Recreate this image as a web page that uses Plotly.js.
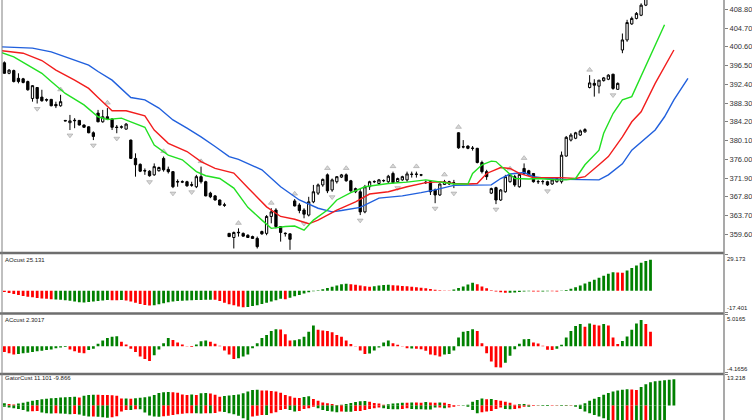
<!DOCTYPE html>
<html><head><meta charset="utf-8">
<script src="https://cdn.plot.ly/plotly-3.0.1.min.js"></script>
<style>html,body{margin:0;padding:0;background:#fff;}#chart{width:752px;height:420px;}</style>
</head><body><div id="chart"></div>
<script>
// ---------------- DATA ----------------
const opens=[397.1,394.8,395.4,393.7,393.6,393.0,389.3,391.7,389.6,389.05,
389.1,388.0,387.7,384.5,384.0,384.55,384.5,383.5,383.1,381.8,
386.1,384.2,385.3,384.8,383.05,383.0,382.6,380.2,376.2,374.9,
373.55,373.4,372.6,373.5,376.2,373.8,373.3,371.15,371.0,371.1,
370.45,370.0,372.2,371.1,368.6,368.0,367.1,366.05,359.8,358.9,
360.05,359.8,359.4,359.1,358.7,360.2,359.8,363.5,364.9,361.3,
359.85,359.7,366.9,366.0,364.9,363.8,366.7,368.6,370.4,372.6,
369.3,371.1,372.1,372.6,371.3,368.9,368.9,364.5,370.0,371.15,
370.7,371.3,371.1,372.9,371.1,371.5,371.5,372.75,372.7,372.6,
371.0,371.1,369.3,368.2,370.5,371.1,370.9,381.8,378.75,378.9,
378.45,378.4,375.3,373.3,368.6,369.8,367.1,368.9,371.1,372.2,
370.0,374.0,373.5,372.9,371.15,371.1,371.1,370.6,371.1,371.1,
376.7,380.2,380.6,381.3,382.0,391.7,392.6,392.0,393.2,393.5,
394.6,391.3,399.9,402.1,405.6,406.8,407.5,409.7,411.5];
const highs=[397.4,395.7,395.6,394.8,393.8,393.2,392.2,391.8,391.2,389.3,
389.2,388.6,390.1,384.6,385.7,385.0,384.6,383.6,383.2,382.1,
386.8,386.8,387.2,385.0,383.5,383.4,383.9,380.3,377.3,375.1,
374.0,373.6,375.1,374.4,376.6,374.4,373.4,371.6,371.4,371.3,
371.1,372.6,374.4,371.3,368.9,368.2,367.2,366.5,359.9,360.2,
360.9,360.0,359.6,359.3,359.1,360.4,363.8,365.3,365.3,361.4,
360.0,359.8,367.3,366.4,365.3,367.8,370.4,370.7,371.8,372.9,
371.8,372.3,372.8,372.9,371.5,369.8,369.6,370.4,371.3,371.4,
371.7,371.6,372.6,373.3,372.0,372.4,373.3,373.3,373.3,372.8,
371.3,371.3,369.6,370.7,371.5,371.3,371.5,381.9,380.2,379.0,
378.9,378.5,375.7,373.7,369.8,370.0,369.5,372.6,372.8,372.6,
373.0,375.1,373.7,373.0,371.5,371.5,371.3,371.6,372.0,377.7,
381.1,381.7,382.0,382.5,382.8,394.4,393.5,393.3,394.0,394.6,
394.7,392.8,403.5,406.5,407.2,408.2,410.1,412.0,413.5];
const lows=[394.7,394.6,392.8,392.6,392.6,391.0,388.6,388.2,388.6,388.6,
387.6,387.2,387.5,384.3,382.4,382.8,383.4,382.9,381.7,380.2,
384.1,384.0,384.6,382.4,381.7,382.7,382.5,376.1,372.2,373.2,
372.6,372.2,372.4,373.3,373.3,372.9,369.7,370.0,370.8,370.0,
370.0,369.7,370.7,367.9,367.5,367.0,365.9,365.6,359.0,356.5,
359.1,359.1,358.8,358.6,356.5,359.5,359.4,362.0,360.9,358.0,
359.1,356.2,365.7,364.2,363.1,363.5,366.4,368.2,370.0,368.6,
368.9,370.7,371.9,371.1,368.9,368.6,363.8,364.2,369.3,370.8,
370.5,371.0,370.7,370.7,370.9,371.3,371.1,372.0,372.0,372.3,
370.6,368.2,366.4,368.0,370.4,370.4,369.7,378.3,378.4,378.2,
377.9,375.1,372.9,371.5,368.4,366.2,366.9,368.7,370.9,370.0,
369.8,372.6,372.4,370.9,370.6,370.5,370.2,370.4,370.9,370.7,
376.6,379.9,380.4,381.1,381.8,391.5,389.7,390.4,393.0,393.3,
391.2,391.2,399.2,401.7,405.4,406.6,407.3,409.5,411.2];
const closes=[394.8,395.5,393.0,393.0,392.8,391.2,392.1,389.3,388.8,388.95,
387.7,387.7,388.6,384.4,384.4,384.45,383.5,383.0,381.8,381.0,
384.2,385.3,384.8,383.0,382.95,383.1,383.7,376.2,374.8,373.4,
373.45,372.4,374.4,374.2,373.7,373.3,370.0,371.05,371.1,370.2,
370.35,372.2,371.1,368.0,367.8,367.1,366.0,365.95,359.1,360.0,
359.95,359.2,358.9,358.7,356.9,359.7,363.5,364.5,361.3,360.0,
359.75,358.5,365.8,364.8,364.0,366.7,368.9,370.4,371.6,369.1,
371.5,372.2,372.6,371.3,369.1,369.6,364.5,370.0,371.1,371.1,
371.5,371.35,372.3,370.9,371.8,372.2,372.8,372.7,372.75,372.55,
370.9,368.9,368.2,370.6,371.1,370.6,370.85,378.5,378.7,378.4,
378.4,375.3,373.3,372.2,369.6,367.1,369.3,372.2,372.6,370.4,
372.7,372.9,372.6,371.1,371.1,371.15,370.4,371.5,371.8,376.9,
380.8,381.3,381.8,382.2,382.5,392.7,392.2,393.3,393.8,394.4,
391.5,392.6,402.1,405.9,406.8,407.9,409.7,411.5,413.0];

const fractalUp=[12,22,34,42,50,57,62,69,73,83,88,94,97,108,111,125];
const fractalDown=[7,14,19,24,31,36,40,49,54,61,64,70,76,84,92,96,105,116,130];

// Alligator lines (bar index, price)
const jawX=[-1,6,10,13,18,20,23,27,30,33,36,39,42,45,48,50,55,59,63,67,70,72,76,80,85,89,92,96,100,104,106,108,111,113,116,120,127,129,132,134,139,141,143,146];
const jawY=[400.6,400.3,399.5,398.4,396.6,395.2,393.3,389.5,389.0,387.2,384.6,382.8,380.9,378.8,376.6,376.0,373.7,370.0,367.1,365.3,364.5,364.8,365.5,367.5,368.0,368.7,369.3,370.3,370.4,370.4,371.8,372.8,373.1,372.2,371.8,371.6,371.5,372.6,375.0,378.0,382.4,385.3,389.0,393.7];
const teethX=[-1,4,8,11,15,18,20,23,26,30,32,35,39,42,45,49,52,56,59,62,65,67,71,75,78,82,86,90,93,96,99,101,103,106,108,110,113,116,119,122,124,127,129,132,134,136,139,143];
const teethY=[399.8,399.2,397.6,395.5,393.3,391.5,389.5,386.6,386.6,385.5,382.4,379.5,377.7,375.5,374.0,373.0,369.8,365.6,363.5,362.9,361.9,362.7,364.9,366.7,368.4,368.9,370.0,370.9,371.1,370.7,370.6,370.7,372.9,374.2,374.0,372.9,372.0,372.0,372.0,371.8,372.2,374.8,376.6,380.9,384.2,386.4,392.6,399.9];
const lipsX=[-1,2,5,8,10,13,17,20,22,25,27,30,32,35,38,41,43,46,49,52,55,57,60,62,64,66,69,71,74,77,82,86,90,93,96,99,100,102,104,105,107,109,112,114,118,120,122,124,127,128,130,132,134,136,138,141];
const lipsY=[399.5,398.4,396.6,394.8,393.0,390.4,387.9,385.3,384.7,385.0,384.2,383.0,379.1,376.9,375.9,373.3,372.4,371.8,369.7,365.5,362.7,360.9,361.3,361.4,360.5,362.7,364.9,367.1,368.7,370.0,370.7,371.0,371.5,371.1,370.6,370.6,372.9,374.8,375.6,375.5,373.7,371.8,371.7,371.8,371.5,371.5,371.8,374.8,378.0,381.7,386.0,389.0,389.7,394.1,398.8,405.4];

const aoValues=[-1.0,-1.8,-2.6,-3.4,-4.2,-4.8,-5.3,-5.8,-6.2,-6.5,-6.8,
-7.0,-7.3,-7.7,-8.1,-8.6,-9.2,-9.4,-9.0,-8.6,-8.2,-7.8,-7.5,
-7.6,-7.7,-7.5,-7.8,-8.6,
-9.6,-10.6,-11.5,-12.0,
-11.6,-10.8,-10.0,-9.2,-8.6,-8.2,-8.0,-7.8,-7.6,-7.5,-7.4,-7.3,-7.2,
-7.3,-8.3,-9.6,-10.8,-11.8,-12.8,-13.3,
-13.1,-12.4,-11.6,-10.6,-9.6,-8.7,-7.6,-6.5,
-6.8,
-5.6,-4.5,-3.4,-2.2,-1.2,-0.4,0.5,1.3,2.2,3.3,4.3,5.2,
5.6,
5.3,4.8,4.2,3.7,3.3,
3.7,4.2,4.6,4.8,
4.5,4.2,3.9,3.6,3.3,2.9,2.5,2.0,1.4,0.9,0.5,0.3,0.2,
1.0,2.2,3.5,5.0,6.4,
5.3,3.5,2.0,0.4,
-0.5,-1.2,-1.6,
-1.5,-1.3,-1.0,-0.6,-0.4,
-0.5,-0.6,-0.5,-0.3,-0.4,-0.5,-0.2,
0.6,1.6,2.8,4.2,5.8,7.4,9.0,10.6,12.2,13.8,
15.0,
14.8,14.6,
16.4,18.4,20.5,22.6,24.0,25.131];
const aoColors="rrrrrrrrrrr"+"gggggggggggg"+"rrgrr"+"rrrr"+"ggggggggggggg"+"rrrrrrr"+"gggggggg"+"r"+
"gggggggggggg"+"g"+"rrrrr"+"gggg"+"rrrrrrrrrrrrr"+"ggggg"+"rrrr"+"rrr"+"ggggg"+"rrggrrg"+"gggggggggg"+"g"+"rr"+"gggggg";

const acValues=[-0.9,-1.1,-1.3,
-1.2,-1.1,-1.0,-0.9,-0.8,-0.7,-0.6,-0.5,-0.3,-0.2,
-0.1,
-0.5,-0.8,-1.0,-1.1,
-0.6,-0.4,0.4,0.9,1.3,1.5,1.6,
0.7,0.3,-0.4,-0.9,-1.6,-2.0,-2.3,
-1.4,-0.5,0.5,1.3,
1.0,0.6,0.3,0.05,-0.1,
0.3,0.8,0.9,
0.7,0.4,0.1,
-0.65,-1.3,-2.0,
-1.9,-1.6,-1.3,-0.3,
0.5,1.3,1.8,2.4,2.7,
2.65,1.9,0.9,
0.95,1.1,1.5,2.3,3.3,
2.6,2.5,2.4,2.2,1.8,1.5,0.9,0.35,0.05,-0.65,-1.2,
-1.15,-0.65,-0.2,0.6,0.9,
0.5,0.25,-0.02,-0.3,
-0.35,
-0.4,-0.45,-0.7,-1.3,-1.4,
-1.6,
-1.3,-1.2,-0.65,
1.4,2.3,2.4,2.7,
2.4,0.5,-1.1,-2.4,-3.3,-3.35,
-2.6,-1.5,-0.45,0.4,1.1,1.15,
0.6,0.45,0.1,-0.55,-0.6,
-0.4,0.25,1.4,2.4,3.2,3.5,
3.1,
3.6,
3.4,3.3,
3.5,
3.3,1.4,0.35,
0.85,1.55,2.6,3.6,4.15,
3.5,2.3017];
const acColors="rrr"+"gggggggggg"+"g"+"rrrr"+"ggggggg"+"rrrrrrr"+"gggg"+"rrrrr"+"ggg"+"rrr"+"rrr"+"gggg"+"ggggg"+
"rrr"+"ggggg"+"rrrrrrrrrrr"+"ggggg"+"rrrr"+"g"+"rrrrr"+"r"+"ggg"+"gggg"+"rrrrrr"+"gggggg"+"rrrrr"+"gggggg"+
"r"+"g"+"rr"+"g"+"rrr"+"ggggg"+"rr";

const gatorUp=[0.9,0.6,0.4,0.8,1.2,1.6,2.0,2.3,2.6,2.9,3.1,3.2,3.4,3.5,3.6,3.7,3.4,4.1,4.4,4.6,
4.5,4.4,4.4,4.3,4.1,3.0,3.0,2.9,3.1,3.3,3.5,3.8,4.4,5.3,5.6,5.7,5.6,5.4,4.7,4.4,
4.7,4.4,5.2,5.3,5.1,4.6,
3.7,4.0,4.2,4.4,4.7,5.2,5.9,6.6,6.7,6.4,6.3,6.1,5.9,5.4,4.4,3.9,3.3,3.2,3.6,3.9,
2.8,2.0,1.3,0.9,0.6,0.2,0.35,0.6,1.1,1.5,1.8,1.9,1.6,1.1,0.8,0.35,0.5,0.8,0.9,1.2,
1.15,1.3,1.25,1.2,1.5,1.3,
1.2,1.3,1.2,0.6,0.2,0.1,0.1,0.35,1.6,2.3,3.0,2.6,2.75,2.3,2.0,1.6,1.2,0.35,0.5,0.6,
0.35,0.2,0.1,0.2,0.2,0.08,0.15,0.2,0.1,0.15,0.2,0.3,1.0,2.0,2.9,3.6,4.5,5.3,5.9,6.4,
6.7,6.9,6.8,6.6,7.8,9.0,9.9,10.3,10.5,10.7,10.9,11.101];
const gatorUpColors="grr"+"ggggggggggggg"+"r"+"ggg"+"rrrrrr"+"g"+"r"+"gggggggg"+"rrrr"+"g"+"r"+"gg"+"rr"+
"r"+"gggggggg"+"rrrrrrrrr"+"gg"+"rrrrrr"+"gggggg"+"rrrr"+"gggg"+"r"+"g"+"rr"+"g"+"r"+
"rgrrrr"+"ggggg"+"r"+"g"+"rrrrr"+"gg"+"rrr"+"gg"+"r"+"gg"+"r"+"ggggggggggggg"+"rr"+"gggggggg";

const gatorDown=[-0.5,-0.9,-1.2,-1.5,-1.9,-2.5,-2.4,-2.3,-3.0,-3.3,-3.4,-3.3,-3.4,-3.5,-3.7,-3.6,-3.8,-4.3,-4.7,-4.7,
-4.8,-5.0,-5.2,-5.0,-4.6,-2.6,-1.9,-1.9,-1.6,-1.6,-3.0,-4.2,-4.7,-4.8,-4.6,-4.3,-4.0,-3.7,-3.5,-3.3,
-3.3,-3.3,-3.4,-3.3,-3.3,-3.2,
-2.6,-2.8,-3.3,-3.7,-4.3,-5.4,-6.1,-4.7,-4.4,-4.0,-4.05,-3.3,-2.9,-1.9,-1.5,-1.9,-2.6,-2.3,-1.5,-1.2,
-0.5,-1.2,-1.9,-2.3,-2.6,-2.9,-2.6,-2.65,-2.7,-2.3,-2.3,-1.9,-1.5,-1.2,-0.9,-1.2,-1.5,-1.55,-1.6,-1.5,
-1.2,-1.5,-1.55,-1.6,-1.65,-1.7,
-0.9,-0.8,-1.2,-0.8,-0.5,-0.07,-0.1,-0.5,-1.9,-3.3,-2.9,-2.6,-2.3,-1.5,-0.9,-1.5,-1.55,-1.5,-1.2,-0.5,
-0.55,-0.1,-0.12,-0.15,-0.2,-0.15,-0.1,-0.15,-0.2,-0.15,-0.5,-1.5,-2.6,-3.3,-4.0,-4.7,-5.4,-6.5,-6.3,-7.2,
-7.8,-7.6,-7.4,-7.9,-8.5,-8.3,-8.9,-9.4,-9.7,-9.866];
const gatorDownColors="gggggg"+"rr"+"ggg"+"r"+"ggg"+"r"+"ggg"+"r"+"ggg"+"rrrr"+"g"+"r"+"ggggg"+"rrrrrrr"+"gg"+"r"+"g"+"r"+
"r"+"gggggg"+"rrr"+"g"+"rrrr"+"gg"+"rrrr"+"ggggg"+"r"+"gg"+"rrrrrr"+"gggg"+"rr"+"ggggg"+
"grgrrrggggrrrrrggrrrgrgggrrggr"+"ggggggggrggrrggrgggg";

const priceTicks=[359.6,363.7,367.8,371.9,376.0,380.1,384.2,388.3,392.4,396.5,400.6,404.7,408.8];
const aoRange=[-17.401,29.173];
const acRange=[-4.1656,5.0165];
const gatorTop=13.218;
const panelTitles=["AOcust 25.131","ACcust 2.3017","GatorCust 11.101 -9.866"];

// ---------------- CHART ----------------
const W=752,H=420,ML=2,MR=28;
const py=px=>1-px/H;
const GREEN='#008000',RED='#ff0000';
const toCol=(s,n)=>Array.from({length:n},(_,i)=>s[i]==='r'?RED:GREEN);
const idx=n=>Array.from({length:n},(_,i)=>i);
const FONT='Liberation Sans, Arial, sans-serif';
const xr=[-0.513,153.70];
const mainRange=[355.73,410.83];
const gatorRange=[-6.15,gatorTop];
const fOff=1.15;

const fractalMarker=sym=>({symbol:sym,size:5,color:'#d8d8d8',line:{color:'#a0a0a0',width:0.6}});

const traces=[
 {type:'candlestick',x:idx(opens.length),open:opens,high:highs,low:lows,close:closes,
  xaxis:'x',yaxis:'y',whiskerwidth:0,
  increasing:{line:{color:'#000',width:1},fillcolor:'#ffffff'},
  decreasing:{line:{color:'#000',width:1},fillcolor:'#000000'},hoverinfo:'skip'},
 {type:'scatter',mode:'markers',x:fractalUp,y:fractalUp.map(i=>highs[i]+fOff),xaxis:'x',yaxis:'y',
  marker:fractalMarker('triangle-up')},
 {type:'scatter',mode:'markers',x:fractalDown,y:fractalDown.map(i=>lows[i]-fOff),xaxis:'x',yaxis:'y',
  marker:fractalMarker('triangle-down')},
 {type:'scatter',mode:'lines',x:jawX,y:jawY,xaxis:'x',yaxis:'y',line:{color:'#2160dd',width:1.4}},
 {type:'scatter',mode:'lines',x:teethX,y:teethY,xaxis:'x',yaxis:'y',line:{color:'#f21d1d',width:1.4}},
 {type:'scatter',mode:'lines',x:lipsX,y:lipsY,xaxis:'x',yaxis:'y',line:{color:'#22e022',width:1.4}},
 {type:'bar',x:idx(aoValues.length),y:aoValues,xaxis:'x2',yaxis:'y2',width:0.6,
  marker:{color:toCol(aoColors,aoValues.length),line:{width:0}}},
 {type:'bar',x:idx(acValues.length),y:acValues,xaxis:'x3',yaxis:'y3',width:0.6,
  marker:{color:toCol(acColors,acValues.length),line:{width:0}}},
 {type:'bar',x:idx(gatorUp.length),y:gatorUp,xaxis:'x4',yaxis:'y4',width:0.6,
  marker:{color:toCol(gatorUpColors,gatorUp.length),line:{width:0}}},
 {type:'bar',x:idx(gatorDown.length),y:gatorDown,xaxis:'x4',yaxis:'y4',width:0.6,
  marker:{color:toCol(gatorDownColors,gatorDown.length),line:{width:0}}}
];

const xa=a=>({domain:[0,1],range:xr,visible:false,anchor:a,fixedrange:true,rangeslider:{visible:false}});
const subY=(dom,rng,tv,a)=>({domain:dom,range:rng,side:'right',anchor:a,tickvals:tv,showticklabels:false,
  ticks:'outside',ticklen:3,tickcolor:'#808080',showgrid:false,zeroline:false,showline:false,fixedrange:true});

const sepColor='#6e6e6e';
const hline=y=>({type:'line',xref:'paper',yref:'paper',x0:-ML/(W-ML-MR),x1:1,y0:py(y),y1:py(y),line:{color:sepColor,width:2.5}});

const labelFont={family:FONT,size:6,color:'#222'};
const sideLab=(txt,yref,y,anchor)=>({xref:'paper',x:1,xanchor:'left',xshift:2,yref:yref,y:y,yanchor:anchor,
  text:txt,showarrow:false,font:labelFont,borderpad:0});
const titleLab=(txt,ypx)=>({xref:'paper',x:0.003,xanchor:'left',yref:'paper',y:py(ypx),yanchor:'middle',
  text:txt,showarrow:false,font:labelFont,borderpad:0});

const layout={
 width:W,height:H,margin:{l:ML,r:MR,t:0,b:0,pad:0},
 paper_bgcolor:'#fff',plot_bgcolor:'#fff',showlegend:false,barmode:'overlay',
 font:{family:FONT},
 xaxis:xa('y'),xaxis2:xa('y2'),xaxis3:xa('y3'),xaxis4:xa('y4'),
 yaxis:{domain:[py(252),1],range:mainRange,side:'right',anchor:'x',tickvals:priceTicks,
   ticktext:priceTicks.map(v=>v.toFixed(2)),ticks:'outside',ticklen:3,tickcolor:'#808080',
   tickfont:{family:FONT,size:7.5,color:'#333'},showgrid:false,zeroline:false,showline:false,fixedrange:true},
 yaxis2:subY([py(312.3),py(254.7)],aoRange,aoRange,'x2'),
 yaxis3:subY([py(372.7),py(314.5)],acRange,acRange,'x3'),
 yaxis4:subY([0,py(374.3)],gatorRange,[gatorTop],'x4'),
 shapes:[
  hline(253),hline(313.4),hline(374),
  {type:'line',xref:'paper',yref:'paper',x0:0,x1:0,y0:0,y1:1,line:{color:'#808080',width:1}},
  {type:'line',xref:'paper',yref:'paper',x0:1,x1:1,y0:0,y1:1,line:{color:'#8c8c8c',width:1.5}}
 ],
 annotations:[
  sideLab(aoRange[1].toFixed(3),'y2',aoRange[1],'top'),
  sideLab(aoRange[0].toFixed(3),'y2',aoRange[0],'bottom'),
  sideLab(acRange[1].toFixed(4),'y3',acRange[1],'top'),
  sideLab(acRange[0].toFixed(4),'y3',acRange[0],'bottom'),
  sideLab(gatorTop.toFixed(3),'y4',gatorTop,'top'),
  titleLab(panelTitles[0],260),titleLab(panelTitles[1],320),titleLab(panelTitles[2],378)
 ]
};
Plotly.newPlot('chart',traces,layout,{staticPlot:true,displayModeBar:false});
</script></body></html>
